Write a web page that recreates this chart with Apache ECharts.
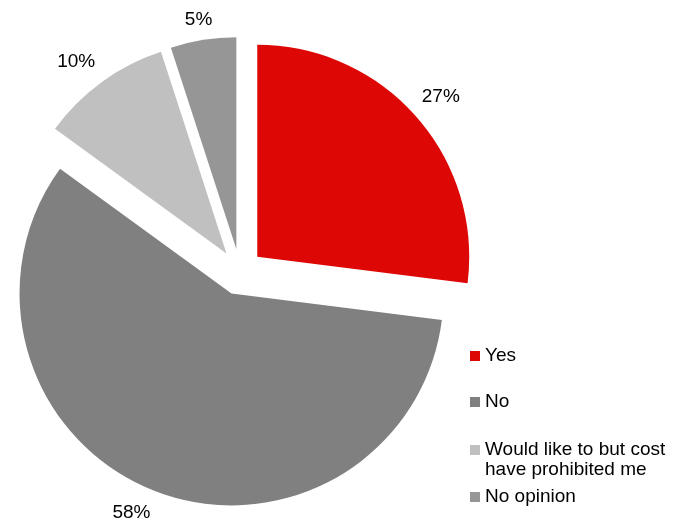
<!DOCTYPE html>
<html>
<head>
<meta charset="utf-8">
<script src="https://cdn.jsdelivr.net/npm/echarts@6/dist/echarts.min.js"></script>
<style>
html,body{margin:0;padding:0;background:#fff;}
#chart{width:679px;height:522px;}
</style>
</head>
<body>
<div id="chart"></div>
<script>
const categories = ['Yes', 'No', 'Would like to but cost have prohibited me', 'No opinion'];
const values = [27, 58, 10, 5];
const colors = ['#DD0806', '#808080', '#C0C0C0', '#969696'];

const FONT = '"Liberation Sans", Arial, sans-serif';
const FS = 19;
// per-label text styling (style only) to mimic the original label placement
const labelStyles = [
  { padding: [0, 0, 0, 4] },
  { padding: [0, 22, 0, 0], formatter: '{c}%\n', lineHeight: 12 },
  { padding: [0, 16, 0, 0], formatter: '\n{c}%', lineHeight: 8 },
  { formatter: '\n{c}%', lineHeight: 20 }
];

const mainData = categories.map((n, i) => ({
  name: n,
  value: values[i],
  selected: true,
  itemStyle: { color: colors[i] },
  select: { itemStyle: { color: colors[i] } }
}));
const labelData = categories.map((n, i) => ({
  name: n, value: values[i], label: labelStyles[i]
}));

const legendTops = [346, 392, 420, 487];
const legends = categories.map((n, i) => ({
  data: [n],
  left: 470,
  top: legendTops[i],
  padding: 0,
  icon: 'rect',
  itemWidth: 10,
  itemHeight: 10,
  itemGap: 5,
  selectedMode: false,
  formatter: name => name.indexOf(' cost ') >= 0 ? '\n' + name.replace(' cost ', ' cost\n') : name,
  textStyle: {
    fontFamily: FONT, fontSize: FS, color: '#000', lineHeight: 20
  }
}));

const chart = echarts.init(document.getElementById('chart'));
chart.setOption({
  animation: false,
  backgroundColor: '#fff',
  legend: legends,
  series: [
    {
      type: 'pie',
      center: [240, 272],
      radius: 212,
      startAngle: 90,
      clockwise: true,
      selectedMode: 'multiple',
      selectedOffset: 23,
      label: { show: false },
      labelLine: { show: false },
      itemStyle: { borderWidth: 0 },
      emphasis: { scale: false, disabled: true },
      data: mainData
    },
    {
      type: 'pie',
      center: [240, 272],
      radius: [252, 272],
      startAngle: 90,
      clockwise: true,
      silent: true,
      legendHoverLink: false,
      itemStyle: { color: 'rgba(0,0,0,0)', borderWidth: 0 },
      emphasis: { disabled: true },
      label: {
        show: true, position: 'inside', formatter: '{c}%',
        color: '#000', fontFamily: FONT, fontSize: FS
      },
      labelLine: { show: false },
      data: labelData
    }
  ]
});
</script>
</body>
</html>
